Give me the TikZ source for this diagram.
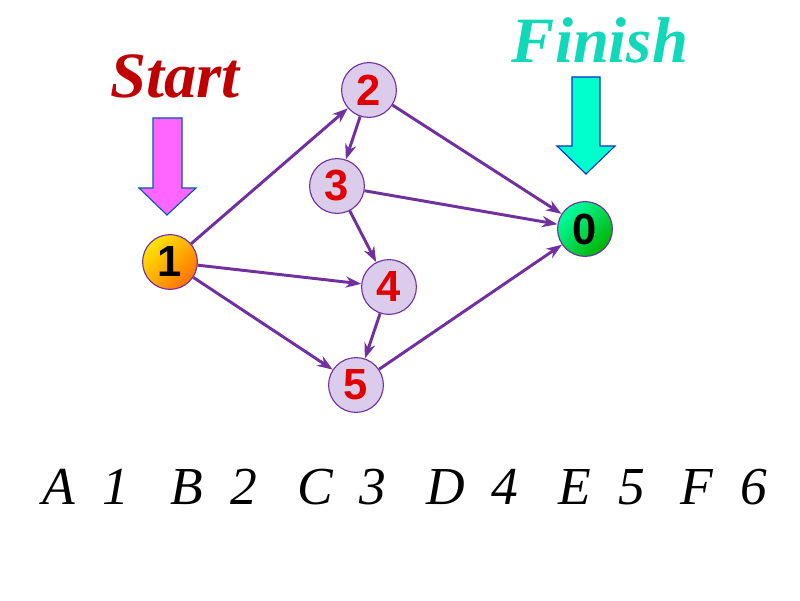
\documentclass[tikz,border=0pt]{standalone}
\usepackage{fontspec}
\usepackage{tikz}
\usetikzlibrary{arrows.meta}
\newfontfamily\digitfont{Liberation Sans}
\newfontfamily\handfont{Liberation Serif}

\definecolor{edgepurple}{HTML}{7030A0}
\definecolor{nodelilac}{HTML}{DCCCEB}
\definecolor{numred}{HTML}{E00000}
\definecolor{startred}{HTML}{C00000}
\definecolor{finishteal}{HTML}{10D8B8}
\definecolor{pinkarrow}{HTML}{FF66FF}
\definecolor{cyanarrow}{HTML}{00FFCC}

\begin{document}
\begin{tikzpicture}[
    vertex/.style={circle, draw=edgepurple, line width=0.8pt, minimum size=1.37cm,
      inner sep=0pt, font=\digitfont\bfseries\fontsize{31}{33}\selectfont},
    midnode/.style={vertex, fill=nodelilac, text=numred},
    edge/.style={-{Stealth[length=11pt,width=8pt]}, draw=edgepurple, line width=2.1pt},
    blockarrow/.style={line width=0.8pt, line join=miter},
    letters/.style={anchor=base, font=\handfont\itshape\fontsize{38}{42}\selectfont}
  ]
      \useasboundingbox (0, 0) rectangle (20, 15);
      % vertices
      \node[vertex, shading=axis, top color=yellow!80!orange, bottom color=orange!90!red,
        shading angle=45, text=black] (v1) at (4.25, 8.45) {1};
      \node[midnode] (v2) at (9.225, 12.75) {2};
      \node[midnode] (v3) at (8.425, 10.35) {3};
      \node[midnode] (v4) at (9.725, 7.825) {4};
      \node[midnode] (v5) at (8.9, 5.375) {5};
      \node[vertex, shading=axis, top color=cyanarrow!80!green, bottom color=green!70!black,
        shading angle=45, text=black] (v0) at (14.625, 9.275) {0};
      % edges
      \draw[edge] (v1) -- (v2);
      \draw[edge] (v1) -- (v4);
      \draw[edge] (v1) -- (v5);
      \draw[edge] (v2) -- (v3);
      \draw[edge] (v2) -- (v0);
      \draw[edge] (v3) -- (v0);
      \draw[edge] (v3) -- (v4);
      \draw[edge] (v4) -- (v5);
      \draw[edge] (v5) -- (v0);
      % labels and arrows
      \node[text=startred, font=\handfont\bfseries\itshape\fontsize{46}{50}\selectfont] (start) at (4.375, 13.1) {Start};
      \node[text=finishteal, font=\handfont\bfseries\itshape\fontsize{46}{50}\selectfont] (finish) at (15, 14) {Finish};
      \draw[blockarrow, draw=teal!70!blue, fill=pinkarrow] (3.825, 12.05) -- (4.55, 12.05) -- (4.55, 10.3)
        -- (4.9, 10.3) -- (4.175, 9.625) -- (3.475, 10.3) -- (3.825, 10.3) -- cycle;
      \draw[blockarrow, draw=blue!60!teal, fill=cyanarrow] (14.3, 13.075) -- (15, 13.075) -- (15, 11.35)
        -- (15.375, 11.35) -- (14.65, 10.65) -- (13.925, 11.35) -- (14.3, 11.35) -- cycle;
      % bottom row
      \foreach \l/\d/\x in {A/1/2.15, B/2/5.35, C/3/8.55, D/4/11.8, E/5/15.05, F/6/18.1}
        \node[letters] (pair\d) at (\x, 2.4) {\l\ \ \d};
    \end{tikzpicture}
\end{document}
